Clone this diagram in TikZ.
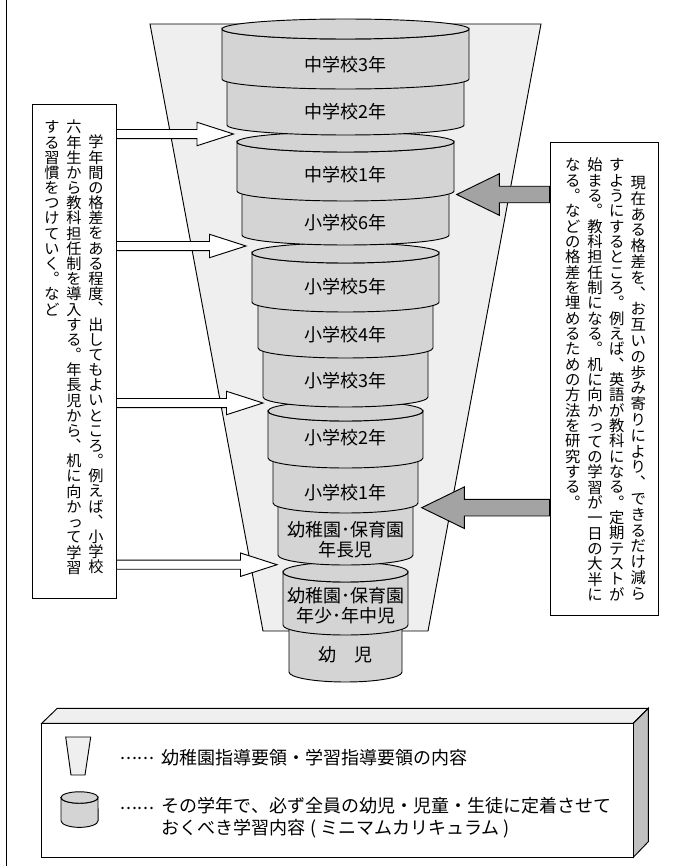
\documentclass[tikz,border=0pt]{standalone}
\usepackage{fontspec}
\usetikzlibrary{calc}
\setmainfont{Noto Sans CJK JP}
% one column of upright characters, top to bottom
\makeatletter
\def\tatetsu{っ}
\newcommand\tatecell[1]{\hbox to 1em{\vrule width 0pt height #1 depth 0pt
    \ifx\tatechar\tatetsu \hskip .1em\hbox to 0pt{\tatechar\hss}\hss
    \else\hss\smash{\tatechar}\hss\fi}}
\newcommand\tate[2]{\vbox{\offinterlineskip\@tfor\tatechar:=#2\do{\tatecell{#1}}}}
\makeatother
\begin{document}
\begin{tikzpicture}[x=0.75pt,y=-0.75pt,line join=miter]
    \tikzset{line/.style={line width=0.7pt}}
    \tikzset{grade/.style={line, fill=cylgray}}
    \tikzset{gradetext/.style={font=\fontsize{13.5}{15}\selectfont, align=center, inner sep=0pt}}
    \tikzset{tatebox/.style={line, draw, fill=white, inner sep=0pt}}
    \tikzset{lefttext/.style={font=\fontsize{11.38}{16}\selectfont, anchor=north, inner sep=0pt}}
    \tikzset{righttext/.style={font=\fontsize{11.5}{16}\selectfont, anchor=north, inner sep=0pt}}
    \tikzset{legendtext/.style={font=\fontsize{13.5}{16.5}\selectfont, anchor=west, inner sep=0pt, align=left}}
    \tikzset{blockarrow/.style n args={3}{to path={let \p1=(\tikztostart), \p2=(\tikztotarget) in
        (\x1,\y1+#1) -- (\x2-#3,\y1+#1) -- (\x2-#3,\y1+#2) -- (\x2,\y1) --
        (\x2-#3,\y1-#2) -- (\x2-#3,\y1-#1) -- (\x1,\y1-#1) -- cycle}}}
    \tikzset{whitearrow/.style={line, draw, fill=white, blockarrow={3.4pt}{8.8pt}{27.4pt}}}
    \tikzset{grayarrow/.style={line, draw, fill=arrowgray, blockarrow={6.2pt}{15.6pt}{-32pt}}}
    \definecolor{cylgray}{HTML}{D4D4D4}
    \definecolor{funnel}{HTML}{EFEFEF}
    \definecolor{arrowgray}{HTML}{A3A3A3}
    \definecolor{sidegray}{HTML}{C0C0C0}
    \useasboundingbox (0,0) rectangle (688,867);
    \draw[line] (6,0) -- (6,866);
    % funnel
    \filldraw[line, fill=funnel] (150,24) -- (541,24) -- (428,631) -- (263,631) -- cycle;
    % grades, lowest first
    \foreach \nm/\lft/\ytop/\yend/\ylab/\txt in {
        kinder/289/620/672/655/{幼　児},
        nenchu/283/572/625/605.5/{幼稚園･保育園\\年少･年中児},
        nencho/278/500/555/540/{幼稚園･保育園\\年長児},
        first/273/450/503/493/{小学校1年},
        second/268/411/458/438/{小学校2年},
        third/263/340/397/381/{小学校3年},
        fourth/258/295/348/335/{小学校4年},
        fifth/252/253/302/287/{小学校5年},
        sixth/242/180/235/223/{小学校6年},
        seventh/237/142/191/175/{中学校1年},
        eighth/227/65/125/112/{中学校2年},
        ninth/222/29/79/65/{中学校3年}} {
        \pgfmathsetmacro\rad{(691-2*\lft)*0.375}
        \filldraw[grade] (\lft,\ytop) -- (\lft,\yend)
            arc[start angle=180, end angle=360, x radius=\rad pt, y radius=7.5pt]
            -- (691-\lft,\ytop)
            arc[start angle=0, end angle=-180, x radius=\rad pt, y radius=7.5pt] -- cycle;
        \filldraw[grade] (345.5,\ytop) ellipse [x radius=\rad pt, y radius=7.5pt];
        \node[gradetext] (\nm) at (345.5,\ylab) {\txt};
    }
    % text boxes
    \node[tatebox, minimum width=63pt, minimum height=370.5pt] (leftbox) at (74,351) {};
    \node[lefttext] (lefta) at (96,132.5) {\tate{11.38pt}{学年間の格差をある程度︑出してもよいところ︒例えば︑小学校}};
    \node[lefttext] (leftb) at (74,117.5) {\tate{11.38pt}{六年生から教科担任制を導入する︒年長児から︑机に向かって学習}};
    \node[lefttext] (leftc) at (52,117.5) {\tate{11.38pt}{する習慣をつけていく︒など}};
    \node[tatebox, minimum width=81.2pt, minimum height=355pt] (rightbox) at (604.2,379.2) {};
    \node[righttext] (righta) at (638.3,172.5) {\tate{11.85pt}{現在ある格差を︑お互いの歩み寄りにより︑できるだけ減ら}};
    \node[righttext] (rightb) at (616.7,155.2) {\tate{11.5pt}{すようにするところ︒例えば︑英語が教科になる︒定期テストが}};
    \node[righttext] (rightc) at (595,155.2) {\tate{11.5pt}{始まる︒教科担任制になる︒机に向かっての学習が一日の大半に}};
    \node[righttext] (rightd) at (572.7,155.2) {\tate{11.5pt}{なる︒などの格差を埋めるための方法を研究する︒}};
    % arrows
    \coordinate (tipa) at (233.5,134);
    \coordinate (tipb) at (246,246);
    \coordinate (tipc) at (263,403);
    \coordinate (tipd) at (277,564.7);
    \coordinate (tipe) at (456.7,194.5);
    \coordinate (tipf) at (421.7,507.7);
    \foreach \t in {a,b,c,d} {
        \coordinate (start\t) at (leftbox.east |- tip\t);
        \draw[whitearrow] (start\t) to (tip\t);
    }
    \foreach \t in {e,f} {
        \coordinate (start\t) at (rightbox.west |- tip\t);
        \draw[grayarrow] (start\t) to (tip\t);
    }
    % legend
    \filldraw[line, fill=funnel] (41.7,723.3) -- (57.3,708.3) -- (648.3,708.3) -- (633.3,723.3) -- cycle;
    \filldraw[line, fill=sidegray] (633.3,723.3) -- (648.3,708.3) -- (648.3,841.7) -- (633.3,857.3) -- cycle;
    \filldraw[line, fill=white] (41.7,723.3) rectangle (633.3,857.3);
    \filldraw[line, fill=funnel] (65.7,737) -- (90.7,737) -- (85,775) -- (71,775) -- cycle;
    \filldraw[grade] (61,797.5) -- (61,820.7) arc[start angle=180, end angle=360, x radius=13.9pt, y radius=5pt]
        -- (98,797.5) arc[start angle=0, end angle=-180, x radius=13.9pt, y radius=4.3pt] -- cycle;
    \filldraw[grade] (79.5,797.5) ellipse [x radius=13.9pt, y radius=4.3pt];
    \node[legendtext] (dotsa) at (120,758) {\addfontfeature{LetterSpace=5}......};
    \node[legendtext] (keya) at (161.7,758) {幼稚園指導要領・学習指導要領の内容};
    \node[legendtext] (dotsb) at (120,808) {\addfontfeature{LetterSpace=5}......};
    \node[legendtext, anchor=north west] (keyb) at (161.7,797) {その学年で、必ず全員の幼児・児童・生徒に定着させて\\おくべき学習内容 ( ミニマムカリキュラム )};
\end{tikzpicture}
\end{document}
